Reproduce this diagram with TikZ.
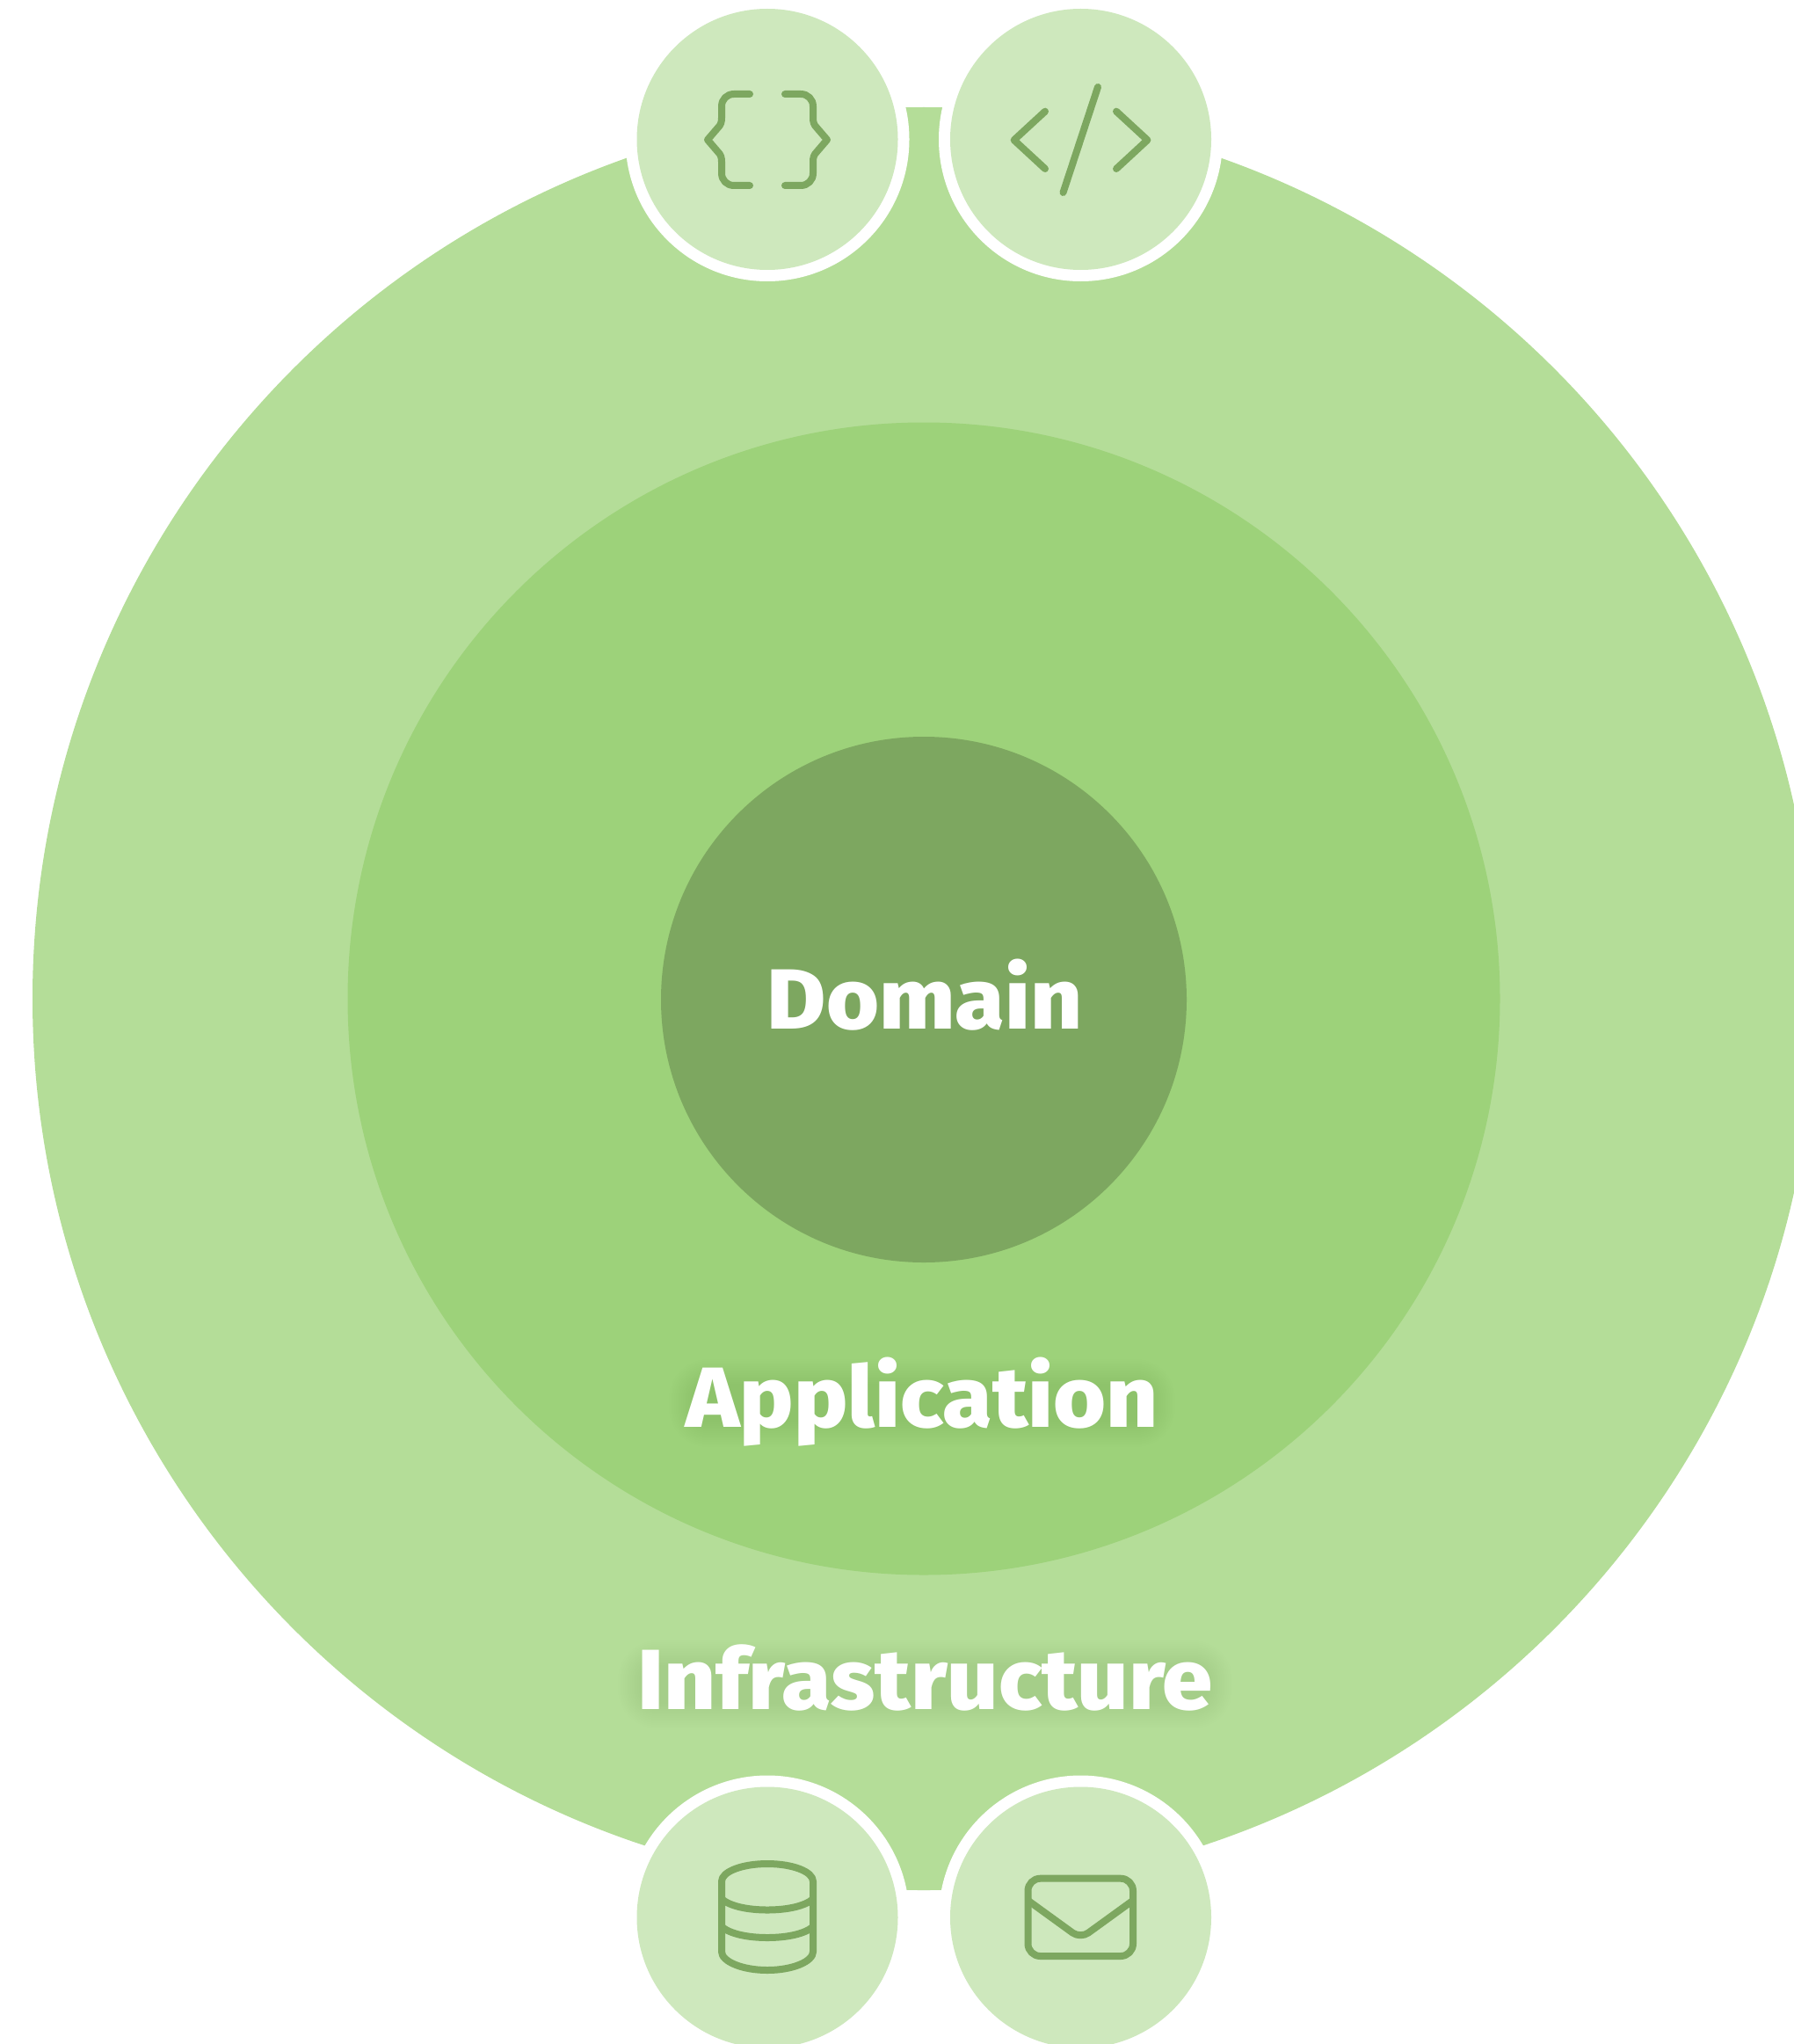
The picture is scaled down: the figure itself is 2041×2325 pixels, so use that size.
\documentclass[tikz,border=0pt]{standalone}
\usepackage{fontspec}
\newfontfamily\labelfont{Fira Sans ExtraBold}[FakeStretch=1.06]
\definecolor{outerc}{HTML}{B4DD98}
\definecolor{midc}{HTML}{9DD27A}
\definecolor{innerc}{HTML}{7DA760}
\definecolor{smallc}{HTML}{CEE8BD}
\tikzset{
  disc/.style={circle,inner sep=0pt,draw=none},
  halo/.style={disc,fill=white,minimum size=323pt},
  badge/.style={disc,fill=smallc,minimum size=297pt},
  iconline/.style={draw=innerc,line width=8pt,line cap=round,line join=round},
  label/.style={anchor=base,inner sep=0pt,text=white,font=\labelfont\fontsize{97}{97}\selectfont},
  softlayer/.style={fill=black,fill opacity=0.005}
}
\begin{document}
\begin{tikzpicture}[x=1pt,y=-1pt]
\useasboundingbox (0,0) rectangle (2041,2325);
\clip (0,0) rectangle (2041,2325);
\fill[white] (0,0) rectangle (2041,2325);
\node[disc,fill=outerc,minimum size=2028pt] (outer) at (1051,1136) {};
\node[disc,fill=midc,minimum size=1311pt] (mid) at (1051,1136) {};
\node[disc,fill=innerc,minimum size=598pt] (inner) at (1051,1137) {};
% halos and badges
\node[halo] (h1) at (873,158.5) {};
\node[halo] (h2) at (1229.5,158.5) {};
\node[halo] (h3) at (873,2181) {};
\node[halo] (h4) at (1229.5,2181) {};
\node[badge] (b1) at (873,158.5) {};
\node[badge] (b2) at (1229.5,158.5) {};
\node[badge] (b3) at (873,2181) {};
\node[badge] (b4) at (1229.5,2181) {};
% braces
\draw[iconline] (853,107) -- (835,107) .. controls (827,107) and (821,113) .. (821,121) -- (821,134) .. controls (821,139) and (820,142) .. (817,145) -- (805,159) -- (817,173) .. controls (820,176) and (821,179) .. (821,184) -- (821,197) .. controls (821,205) and (827,211) .. (835,211) -- (853,211);
\draw[iconline] (893,107) -- (911,107) .. controls (919,107) and (925,113) .. (925,121) -- (925,134) .. controls (925,139) and (926,142) .. (929,145) -- (941,159) -- (929,173) .. controls (926,176) and (925,179) .. (925,184) -- (925,197) .. controls (925,205) and (919,211) .. (911,211) -- (893,211);
% code
\draw[iconline] (1249,99) -- (1209.5,219);
\draw[iconline] (1189,126.7) -- (1153.6,159.3) -- (1189,192);
\draw[iconline] (1270,126.7) -- (1305.4,159.3) -- (1270,192);
% database
\draw[iconline] (821,2220) -- (821,2140) .. controls (821,2129) and (844,2120) .. (873,2120) .. controls (902,2120) and (925,2129) .. (925,2140) -- (925,2220) .. controls (925,2231) and (902,2241) .. (873,2241) .. controls (844,2241) and (821,2231) .. (821,2220);
\draw[iconline] (821,2160) .. controls (830,2168) and (850,2172.5) .. (873,2172.5) .. controls (896,2172.5) and (916,2168) .. (925,2160);
\draw[iconline] (821,2191.5) .. controls (830,2199.5) and (850,2204) .. (873,2204) .. controls (896,2204) and (916,2199.5) .. (925,2191.5);
% envelope
\draw[iconline,rounded corners=14pt] (1169.5,2136.7) rectangle (1289,2225);
\draw[iconline,rounded corners=11pt,line cap=butt] (1169.5,2161.7) -- (1229.25,2205) -- (1289,2161.7);
% soft glow behind the two lower labels
\foreach \r in {-8,-6,...,20}{
  \pgfmathsetmacro{\rc}{\r+24}
  \fill[softlayer,rounded corners=\rc pt] (781-\r,1566-\r) rectangle (1317+\r,1626+\r);
  \fill[softlayer,rounded corners=\rc pt] (723-\r,1886-\r) rectangle (1382+\r,1946+\r);
}
\node[label] (dom) at (1052,1170) {Domain};
\node[label] (app) at (1049,1623) {Application};
\node[label] (inf) at (1052.5,1944.5) {Infrastructure};
\end{tikzpicture}
\end{document}
